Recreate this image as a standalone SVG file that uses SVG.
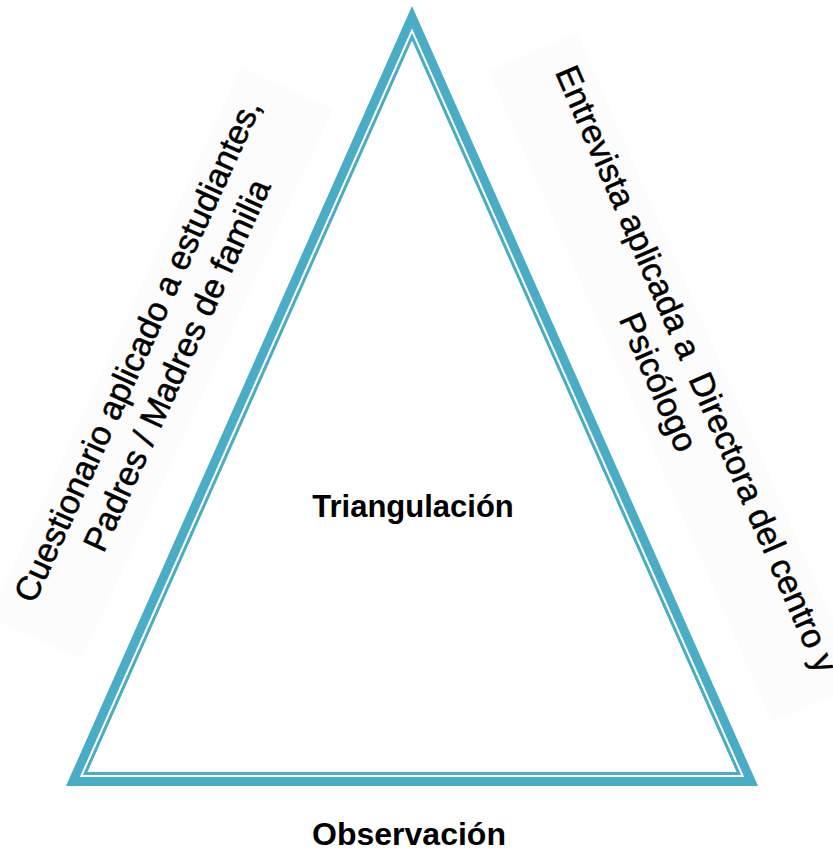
<svg xmlns="http://www.w3.org/2000/svg" width="833" height="854" viewBox="0 0 833 854">
  <style>
    .bg { fill: #fcfcfc; }
    .side { font-family: "Liberation Sans", Arial, sans-serif; font-size: 34px; fill: #000; stroke: #000; stroke-width: 0.5px; text-anchor: middle; }
    .bold { font-family: "Liberation Sans", Arial, sans-serif; font-weight: bold; fill: #000; text-anchor: middle; }
    .edge { fill: none; stroke: #4bacc6; stroke-linejoin: miter; }
  </style>
  <rect width="833" height="854" fill="#ffffff"/>
  <g id="left-label" transform="rotate(-65.5)">
    <rect class="bg" x="-566" y="247" width="605" height="101"/>
    <text class="side" x="-262" y="282">Cuestionario aplicado a estudiantes,</text>
    <text class="side" x="-259" y="324">Padres / Madres de familia</text>
  </g>
  <g id="right-label" transform="rotate(66.5)">
    <rect class="bg" x="260" y="-516" width="710" height="96"/>
    <text class="side" x="616" y="-480" xml:space="preserve">Entrevista aplicada a  Directora del centro y</text>
    <text class="side" x="613" y="-440">Psicólogo</text>
  </g>
  <g id="triangle">
    <polygon class="edge" stroke-width="9" points="412,17.1 72.9,781.5 751.1,781.5"/>
    <polygon class="edge" stroke-width="3" points="412,36.8 85.2,773.5 738.8,773.5"/>
  </g>
  <g id="center-label">
    <text class="bold" x="413" y="516.5" font-size="31">Triangulación</text>
  </g>
  <g id="bottom-label">
    <text class="bold" x="409" y="845" font-size="32">Observación</text>
  </g>
</svg>
